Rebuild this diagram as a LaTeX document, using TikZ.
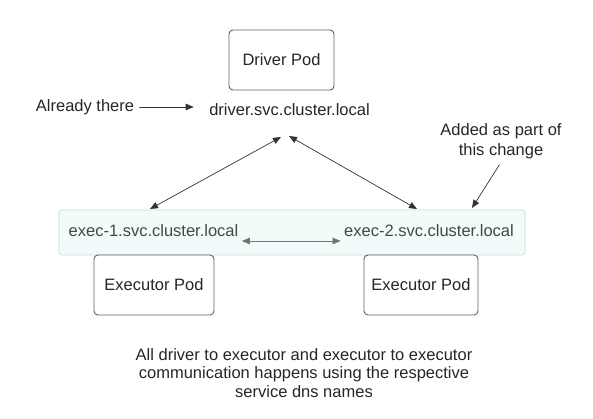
\documentclass[tikz,border=0pt]{standalone}
\usepackage{fontspec}
\setmainfont{Liberation Sans}
\usetikzlibrary{arrows.meta}
\definecolor{bandfill}{RGB}{240,251,250}
\definecolor{bandline}{RGB}{200,218,218}

\begin{document}
\begin{tikzpicture}[line cap=round,line join=round,>={Triangle[length=8pt,width=6.5pt]},x=1pt,y=-1pt,
		every node/.style={font=\fontsize{16.5}{19.5}\selectfont,text=black!85},
		podbox/.style={draw=black!62,line width=0.9pt,rounded corners=4pt,fill=white},
		dnstext/.style={text=black!72},
		link/.style={<->,draw=black!80,line width=0.7pt}]
			\useasboundingbox (0,0) rectangle (593,418);
			% Driver
			\node[podbox,minimum width=105pt,minimum height=60pt] (driver) at (281.5,60) {Driver Pod};
			\node (drvdns) at (289.5,110) {driver.svc.cluster.local};
			\node (already) at (85,107) {Already there};
			\draw[->,draw=black!80,line width=0.7pt,shorten <=2pt,shorten >=12pt] (already.east) -- (drvdns.west |- already.east);
			% bande des services
			\node[draw=bandline,fill=bandfill,rounded corners=3pt,line width=0.7pt,minimum width=466pt,minimum height=45pt] (svcband) at (292,232.5) {};
			\node[dnstext] (exec1) at (153.5,231) {exec-1.svc.cluster.local};
			\node[dnstext] (exec2) at (429,231) {exec-2.svc.cluster.local};
			\draw[link,draw=black!55] ([yshift=-10pt]exec1.east) -- ([yshift=-10pt]exec2.west);
			% Executors
			\node[podbox,minimum width=120pt,minimum height=60pt] (pod1) at (154,285) {Executor Pod};
			\node[podbox,minimum width=114pt,minimum height=60pt] (pod2) at (421,285) {Executor Pod};
			% liens vers le driver
			\coordinate (tipL) at (281,137);
			\coordinate (tipR) at (289,136);
			\coordinate (ex1top) at (150,209);
			\coordinate (ex2top) at (417,209);
			\draw[link] (ex1top) -- (tipL);
			\draw[link] (ex2top) -- (tipR);
			% annotation
			\node[align=center,font=\fontsize{16.5}{20}\selectfont] (added) at (501,141) {Added as part of\\this change};
			\coordinate (addtip) at (472,208);
			\draw[->,draw=black!80,line width=0.7pt,shorten <=3pt] (added.south) -- (addtip);
			\node[align=center,font=\fontsize{16.5}{18.5}\selectfont] (note) at (304,373) {All driver to executor and executor to executor\\communication happens using the respective\\service dns names};
	\end{tikzpicture}
\end{document}
